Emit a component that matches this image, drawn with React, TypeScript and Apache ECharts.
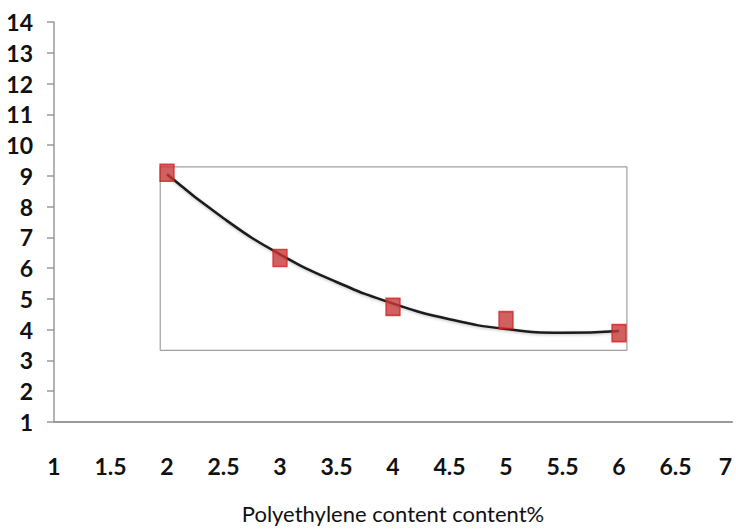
import React, { useEffect, useRef } from "react";
import * as echarts from "echarts";

const xTicks = [1, 1.5, 2, 2.5, 3, 3.5, 4, 4.5, 5, 5.5, 6, 6.5, 7];
const pointsX = [2, 3, 4, 5, 6];
const pointsY = [9.1, 6.33, 4.74, 4.31, 3.89];
const trendX = [2, 2.5, 3, 3.5, 4, 4.5, 5, 5.5, 6];
const trendY = [9.05, 7.62, 6.45, 5.55, 4.85, 4.34, 4.02, 3.9, 3.96];
const boxX = [1.94, 6.07];
const boxY = [3.33, 9.29];

const FONT = "Lato, 'Open Sans', sans-serif";

export default function App() {
  const ref = useRef<HTMLDivElement>(null);
  useEffect(() => {
    if (!ref.current) return;
    document.body.style.margin = "0";
    const chart = echarts.init(ref.current, null, { renderer: "svg", width: 736, height: 531 });
    const box = [
      [boxX[0], boxY[0]],
      [boxX[0], boxY[1]],
      [boxX[1], boxY[1]],
      [boxX[1], boxY[0]],
      [boxX[0], boxY[0]],
    ];
    chart.setOption({
      animation: false,
      backgroundColor: "#ffffff",
      grid: {
        left: 54,
        right: 4,
        top: 22,
        bottom: 109,
        containLabel: false,
        outerBoundsMode: "none",
      },
      xAxis: {
        type: "value",
        min: 1,
        max: 7,
        interval: 0.5,
        name: "Polyethylene content content%",
        nameLocation: "middle",
        nameGap: 80,
        nameTextStyle: { fontFamily: FONT, fontSize: 22, color: "#111" },
        axisLine: { show: true, onZero: false, lineStyle: { color: "#9a9a9a", width: 2 } },
        axisTick: { show: false },
        splitLine: { show: false },
        axisLabel: {
          margin: 32,
          fontFamily: FONT,
          fontSize: 23,
          fontWeight: "bold",
          color: "#111",
          alignMaxLabel: "right",
          formatter: (v: number) => (xTicks.indexOf(v) >= 0 ? String(v) : ""),
        },
      },
      yAxis: {
        type: "value",
        min: 1,
        max: 14,
        interval: 1,
        axisLine: { show: true, onZero: false, lineStyle: { color: "#9a9a9a", width: 1.5 } },
        axisTick: { show: true, inside: false, length: 7, lineStyle: { color: "#9a9a9a", width: 1.5 } },
        splitLine: { show: false },
        axisLabel: {
          margin: 21,
          fontFamily: FONT,
          fontSize: 23,
          fontWeight: "bold",
          color: "#111",
        },
      },
      series: [
        {
          type: "line",
          data: box,
          symbol: "none",
          lineStyle: { color: "#9f9f9f", width: 1.2 },
          silent: true,
          z: 1,
        },
        {
          type: "line",
          data: trendX.map((x, i) => [x, trendY[i]]),
          smooth: 0.5,
          symbol: "none",
          lineStyle: { color: "#1a1a1a", width: 2.5, shadowColor: "rgba(0,0,0,0.25)", shadowBlur: 3, shadowOffsetY: 1 },
          z: 2,
        },
        {
          type: "scatter",
          data: pointsX.map((x, i) => [x, pointsY[i]]),
          symbol: "rect",
          symbolSize: [14, 17],
          itemStyle: { color: "#c63a3a", borderColor: "#d81e1e", borderWidth: 1.5 },
          z: 3,
        },
      ],
    });
    return () => chart.dispose();
  }, []);
  return <div ref={ref} style={{ width: 736, height: 531 }} />;
}
